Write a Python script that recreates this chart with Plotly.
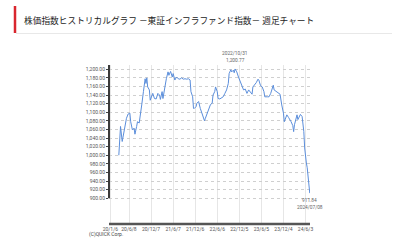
import plotly.graph_objects as go

# ---- data ----
dates = [
    "2020-03-16", "2020-03-30", "2020-04-13", "2020-04-27", "2020-05-04", "2020-05-18",
    "2020-06-01", "2020-06-15", "2020-06-22", "2020-07-06", "2020-07-20", "2020-07-27",
    "2020-08-10", "2020-08-17", "2020-08-31", "2020-09-07", "2020-09-21", "2020-10-05",
    "2020-10-12", "2020-10-19", "2020-10-26", "2020-11-02", "2020-11-09", "2020-11-23",
    "2020-11-30", "2020-12-14", "2020-12-21", "2021-01-04", "2021-01-18", "2021-02-01",
    "2021-02-15", "2021-02-22", "2021-03-08", "2021-03-15", "2021-03-29", "2021-04-12",
    "2021-04-26", "2021-05-03", "2021-05-17", "2021-05-31", "2021-06-07", "2021-06-21",
    "2021-07-05", "2021-07-19", "2021-08-02", "2021-08-16", "2021-08-30", "2021-09-13",
    "2021-09-27", "2021-10-11", "2021-10-25", "2021-11-01", "2021-11-15", "2021-11-22",
    "2021-11-29", "2021-12-13", "2021-12-20", "2022-01-03", "2022-01-17", "2022-01-31",
    "2022-02-14", "2022-02-21", "2022-02-28", "2022-03-14", "2022-03-28", "2022-04-11",
    "2022-04-25", "2022-05-02", "2022-05-16", "2022-05-23", "2022-06-06", "2022-06-13",
    "2022-06-27", "2022-07-11", "2022-07-25", "2022-08-08", "2022-08-22", "2022-09-05",
    "2022-09-12", "2022-09-26", "2022-10-03", "2022-10-17", "2022-10-24", "2022-10-31",
    "2022-11-14", "2022-11-28", "2022-12-12", "2022-12-26", "2023-01-09", "2023-01-23",
    "2023-02-06", "2023-02-20", "2023-03-06", "2023-03-20", "2023-03-27", "2023-04-10",
    "2023-04-24", "2023-05-08", "2023-05-15", "2023-05-29", "2023-06-12", "2023-06-26",
    "2023-07-03", "2023-07-24", "2023-08-07", "2023-08-21", "2023-09-04", "2023-09-11",
    "2023-09-18", "2023-10-02", "2023-10-16", "2023-10-23", "2023-11-06", "2023-11-20",
    "2023-12-04", "2023-12-11", "2023-12-25", "2024-01-01", "2024-01-15", "2024-01-29",
    "2024-02-05", "2024-02-19", "2024-02-26", "2024-03-04", "2024-03-18", "2024-03-25",
    "2024-04-01", "2024-04-15", "2024-04-22", "2024-05-06", "2024-05-20", "2024-05-27",
    "2024-06-03", "2024-06-10", "2024-06-17", "2024-06-24", "2024-07-01", "2024-07-08",
]
index_values = [
    1000, 1067, 1032, 1054, 1067, 1086,
    1096, 1098, 1078, 1059, 1063, 1049,
    1067, 1078, 1075, 1086, 1117, 1148,
    1171, 1178, 1167, 1180, 1159, 1152,
    1128, 1140, 1144, 1132, 1131, 1144,
    1140, 1130, 1148, 1132, 1159, 1178,
    1194, 1186, 1195, 1182, 1190, 1175,
    1182, 1178, 1177, 1180, 1177, 1178,
    1177, 1178, 1175, 1148, 1136, 1109,
    1109, 1113, 1121, 1125, 1109, 1098,
    1086, 1080, 1086, 1098, 1111, 1118,
    1121, 1140, 1148, 1159, 1148, 1132,
    1131, 1134, 1136, 1144, 1152, 1167,
    1190, 1199, 1194, 1198, 1192, 1200.77,
    1194, 1182, 1171, 1160, 1152, 1154,
    1144, 1152, 1148, 1142, 1159, 1163,
    1169, 1177, 1175, 1162, 1159, 1148,
    1136, 1136, 1136, 1144, 1159, 1163,
    1152, 1149, 1148, 1146, 1142, 1117,
    1098, 1078, 1090, 1094, 1088, 1083,
    1078, 1069, 1055, 1071, 1086, 1094,
    1083, 1094, 1095, 1090, 1055, 1017,
    994, 982, 971, 955, 932, 911.84,
]

tick_dates = ["2020-01-06", "2020-06-08", "2020-12-07", "2021-06-07", "2021-12-06",
              "2022-06-06", "2022-12-05", "2023-06-05", "2023-12-04", "2024-06-03"]
tick_labels = ["20/1/6", "20/6/8", "20/12/7", "21/6/7", "21/12/6",
               "22/6/6", "22/12/5", "23/6/5", "23/12/4", "24/6/3"]
y_ticks = [900, 920, 940, 960, 980, 1000, 1020, 1040, 1060, 1080,
           1100, 1120, 1140, 1160, 1180, 1200]

title_text = "株価指数ヒストリカルグラフ －東証インフラファンド指数－ 週足チャート"
high_date, high_label, high_value_label = "2022-10-31", "2022/10/31", "1,200.77"
last_date, last_label, last_value_label = "2024-07-08", "2024/07/08", "911.84"
copyright_text = "(C)QUICK Corp."

# ---- layout geometry ----
W, H = 400, 249
L, R, T, B = 109, 90, 65, 25
PW, PH = W - L - R, H - T - B


def px(x):
    return (x - L) / PW


def py(y):
    return (H - B - y) / PH


tick_font = dict(family="Roboto, Noto Sans, sans-serif", size=5, color="#555555")

fig = go.Figure()
fig.add_trace(go.Scatter(
    x=dates, y=index_values, mode="lines",
    line=dict(color="#5b8edb", width=1),
    hoverinfo="skip", showlegend=False,
))

fig.update_layout(
    width=W, height=H,
    margin=dict(l=L, r=R, t=T, b=B, pad=0),
    paper_bgcolor="white", plot_bgcolor="white",
    showlegend=False,
    xaxis=dict(
        type="date", range=["2019-12-26", "2024-07-10"],
        tickmode="array", tickvals=tick_dates, ticktext=tick_labels,
        showgrid=True, gridcolor="#e6e6e6", gridwidth=1,
        showline=False, zeroline=False, ticks="",
        tickfont=tick_font, ticklabelstandoff=1,
    ),
    yaxis=dict(
        range=[840, 1210],
        tickmode="array", tickvals=y_ticks, tickformat=",.2f",
        showgrid=True, gridcolor="#cfcfcf", gridwidth=1, griddash="dot",
        showline=False, zeroline=False,
        ticks="outside", ticklen=2, tickcolor="#444444", tickwidth=1,
        tickfont=tick_font,
    ),
)

shapes = [
    # left axis line (only down to 900)
    dict(type="line", xref="paper", yref="y", x0=0, x1=0, y0=900, y1=1210,
         line=dict(color="#3a3a3a", width=2)),
    # bottom axis line
    dict(type="line", xref="paper", yref="paper", x0=0, x1=1, y0=0, y1=0,
         line=dict(color="#555555", width=2.5)),
    # header red bar
    dict(type="line", xref="paper", yref="paper", x0=px(15), x1=px(15), y0=py(6), y1=py(33),
         line=dict(color="#d9262e", width=2.5)),
    # header separator
    dict(type="line", xref="paper", yref="paper", x0=px(16), x1=px(392), y0=py(33.5), y1=py(33.5),
         line=dict(color="#e8e8e8", width=1)),
]
fig.update_layout(shapes=shapes)

small = dict(family="Roboto, Noto Sans, sans-serif", size=4.8, color="#666666")
annotations = [
    dict(text=title_text, xref="paper", yref="paper", x=px(22), y=py(20),
         xanchor="left", yanchor="middle", showarrow=False,
         font=dict(family="Noto Sans CJK JP", size=8.7, color="#222222")),
    dict(text=high_label, xref="x", yref="paper", x=high_date, y=py(53.5),
         xanchor="center", yanchor="middle", showarrow=False, font=small),
    dict(text=high_value_label, xref="x", yref="paper", x=high_date, y=py(60),
         xanchor="center", yanchor="middle", showarrow=False, font=small),
    dict(text=last_value_label, xref="x", yref="paper", x=last_date, y=py(200.5),
         xanchor="center", yanchor="middle", showarrow=False, font=small),
    dict(text=last_label, xref="x", yref="paper", x=last_date, y=py(207),
         xanchor="center", yanchor="middle", showarrow=False, font=small),
    dict(text=copyright_text, xref="paper", yref="paper", x=px(87), y=py(234),
         xanchor="left", yanchor="middle", showarrow=False,
         font=dict(family="Roboto, Noto Sans, sans-serif", size=5, color="#444444")),
]
fig.update_layout(annotations=annotations)

fig.write_html("out.html")
